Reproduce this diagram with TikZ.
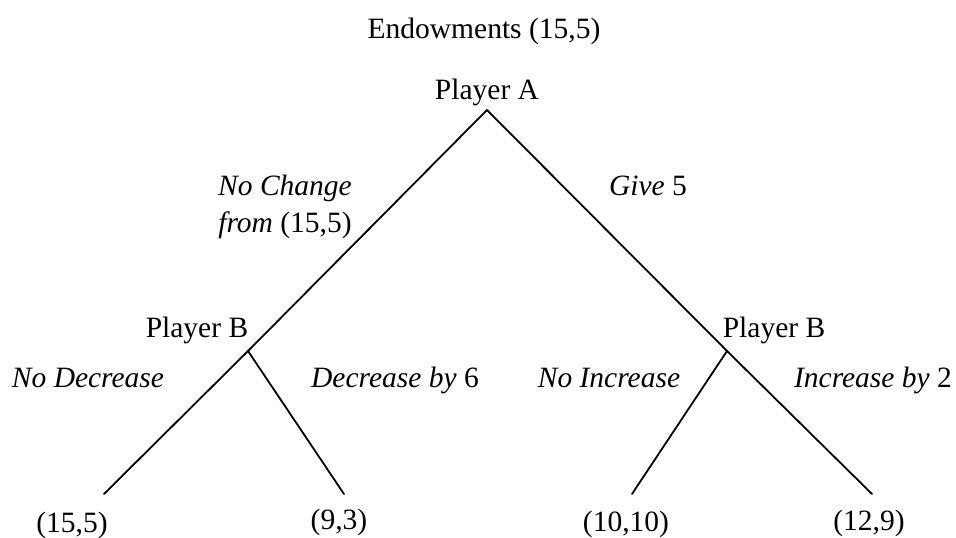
\documentclass[tikz,border=0pt]{standalone}
\usepackage{fontspec}
\setmainfont{Liberation Serif}
\begin{document}
\begin{tikzpicture}[x=1pt,y=-1pt,
  lbl/.style={inner sep=0pt,anchor=base,font=\fontsize{29.5}{35}\selectfont},
  branch/.style={line width=1.8pt,line cap=round}]
\useasboundingbox (0,0) rectangle (956,538);
% decision points and ends
\coordinate (A) at (487,110);
\coordinate (BL) at (248,351);
\coordinate (BR) at (727,351);
\coordinate (E1) at (104,494);
\coordinate (E2) at (344,494);
\coordinate (E3) at (632,494);
\coordinate (E4) at (872,494);
% connectors
\draw[branch] (A) -- (BL);
\draw[branch] (BL) -- (E1);
\draw[branch] (BL) -- (E2);
\draw[branch] (A) -- (BR);
\draw[branch] (BR) -- (E4);
\draw[branch] (BR) -- (E3);
% labels
\node[lbl] (title) at (484,38) {Endowments (15,5)};
\node[lbl] (pa) at (487,99) {Player A};
\node[lbl] (nc1) at (285,195) {\itshape No Change};
\node[lbl] (nc2) at (285,232) {\itshape from\/\upshape\ (15,5)};
\node[lbl] (give) at (648,195) {\itshape Give\/\upshape\ 5};
\node[lbl] (pbl) at (197,337) {Player B};
\node[lbl] (pbr) at (774,337) {Player B};
\node[lbl] (nd) at (88,387) {\itshape No Decrease};
\node[lbl] (dec) at (395,387) {\itshape Decrease by\/\upshape\ 6};
\node[lbl] (ni) at (609,387) {\itshape No Increase};
\node[lbl] (inc) at (873,387) {\itshape Increase by\/\upshape\ 2};
\node[lbl] (p1) at (72,532) {(15,5)};
\node[lbl] (p2) at (339,529) {(9,3)};
\node[lbl] (p3) at (626,531) {(10,10)};
\node[lbl] (p4) at (869,530) {(12,9)};
\end{tikzpicture}
\end{document}
